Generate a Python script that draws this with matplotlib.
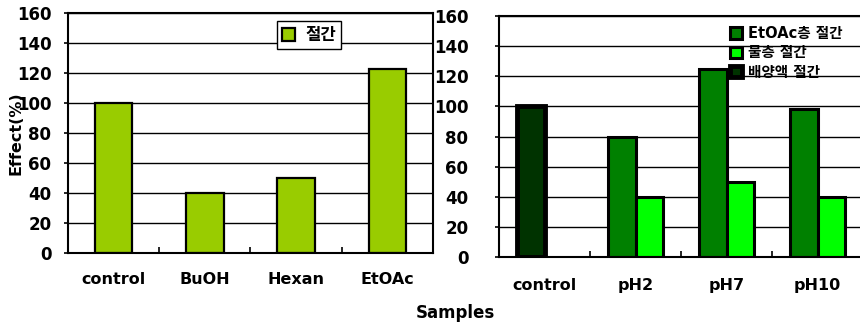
import matplotlib
matplotlib.use("Agg")
import matplotlib.pyplot as plt
import numpy as np

plt.rcParams['font.family'] = ['DejaVu Sans', 'Noto Sans CJK KR']
plt.rcParams['font.weight'] = 'bold'

# Left panel: solvent fractions
left_categories = ["control", "BuOH", "Hexan", "EtOAc"]
left_values = [100, 40, 50, 123]
left_label = "절간"

# Right panel: pH fractions
right_categories = ["control", "pH2", "pH7", "pH10"]
culture_values = [100, None, None, None]
etoac_values = [None, 80, 125, 98]
water_values = [None, 40, 50, 40]
series_labels = ["EtOAc층 절간", "물층 절간", "배양액 절간"]

y_ticks = list(range(0, 161, 20))

W, H = 860, 325
fig = plt.figure(figsize=(W / 100, H / 100), dpi=100)


def px_axes(x0, x1, ytop, ybot):
    return fig.add_axes([x0 / W, (H - ybot) / H, (x1 - x0) / W, (ybot - ytop) / H])


def style_axes(ax, cats, label_pad, ypad):
    ax.set_ylim(0, 160)
    ax.set_xlim(-0.5, len(cats) - 0.5)
    ax.set_yticks(y_ticks)
    ax.set_yticklabels([str(v) for v in y_ticks], fontsize=12, fontweight='bold')
    ax.yaxis.grid(True, color='black', linewidth=1.0)
    ax.set_axisbelow(True)
    ax.tick_params(axis='y', length=3, width=1.2, pad=ypad)
    ax.set_xticks(np.arange(len(cats) - 1) + 0.5)
    ax.set_xticklabels([])
    ax.tick_params(axis='x', which='major', direction='in', length=4, width=1.2)
    ax.set_xticks(np.arange(len(cats)), minor=True)
    ax.set_xticklabels(cats, minor=True, fontsize=11.5, fontweight='bold')
    ax.tick_params(axis='x', which='minor', length=0, pad=label_pad)
    for s in ax.spines.values():
        s.set_linewidth(1.5)
        s.set_color('black')


# ---- left chart ----
ax1 = px_axes(68, 433, 13, 253)
x1 = np.arange(len(left_categories))
b1 = ax1.bar(x1, left_values, width=0.41, color='#99CC00', edgecolor='black',
             linewidth=1.6, label=left_label)
style_axes(ax1, left_categories, 14, 9)
ax1.set_ylabel("Effect(%)", fontsize=11.5, fontweight='bold')
ax1.yaxis.set_label_coords((23 - 68) / 365, 0.5)
leg1 = ax1.legend(handles=[b1], loc='upper left', bbox_to_anchor=(277 / W, 1 - 21 / H),
                  bbox_transform=fig.transFigure, fontsize=12, handlelength=0.8,
                  handleheight=0.8, handletextpad=0.6, borderpad=0.3,
                  borderaxespad=0, fancybox=False, framealpha=1)
leg1.get_frame().set_edgecolor('black')
leg1.get_frame().set_linewidth(1.0)

# ---- right chart ----
ax2 = px_axes(499, 863, 16, 257)
w = 0.3


def draw_series(ax, vals, offset, color, lw, label):
    xs = [i + offset for i, v in enumerate(vals) if v is not None]
    hs = [v for v in vals if v is not None]
    return ax.bar(xs, hs, width=w, color=color, edgecolor='black', linewidth=lw,
                  label=label)


b_et = draw_series(ax2, etoac_values, -w / 2, '#008000', 2.2, series_labels[0])
b_wa = draw_series(ax2, water_values, w / 2, '#00FF00', 2.2, series_labels[1])
b_cu = draw_series(ax2, culture_values, -w / 2, '#003300', 3.5, series_labels[2])
style_axes(ax2, right_categories, 15, 19)
ax2.legend(handles=[b_et, b_wa, b_cu], loc='upper left',
           bbox_to_anchor=(730 / W, 1 - 26 / H), bbox_transform=fig.transFigure,
           frameon=False, fontsize=10.5, handlelength=0.8, handleheight=0.8,
           handletextpad=0.4, labelspacing=0.3, borderpad=0, borderaxespad=0)

fig.text(455 / W, 1 - 313 / H, "Samples", ha='center', va='center',
         fontsize=12, fontweight='bold')

fig.savefig("out.png", dpi=100)
